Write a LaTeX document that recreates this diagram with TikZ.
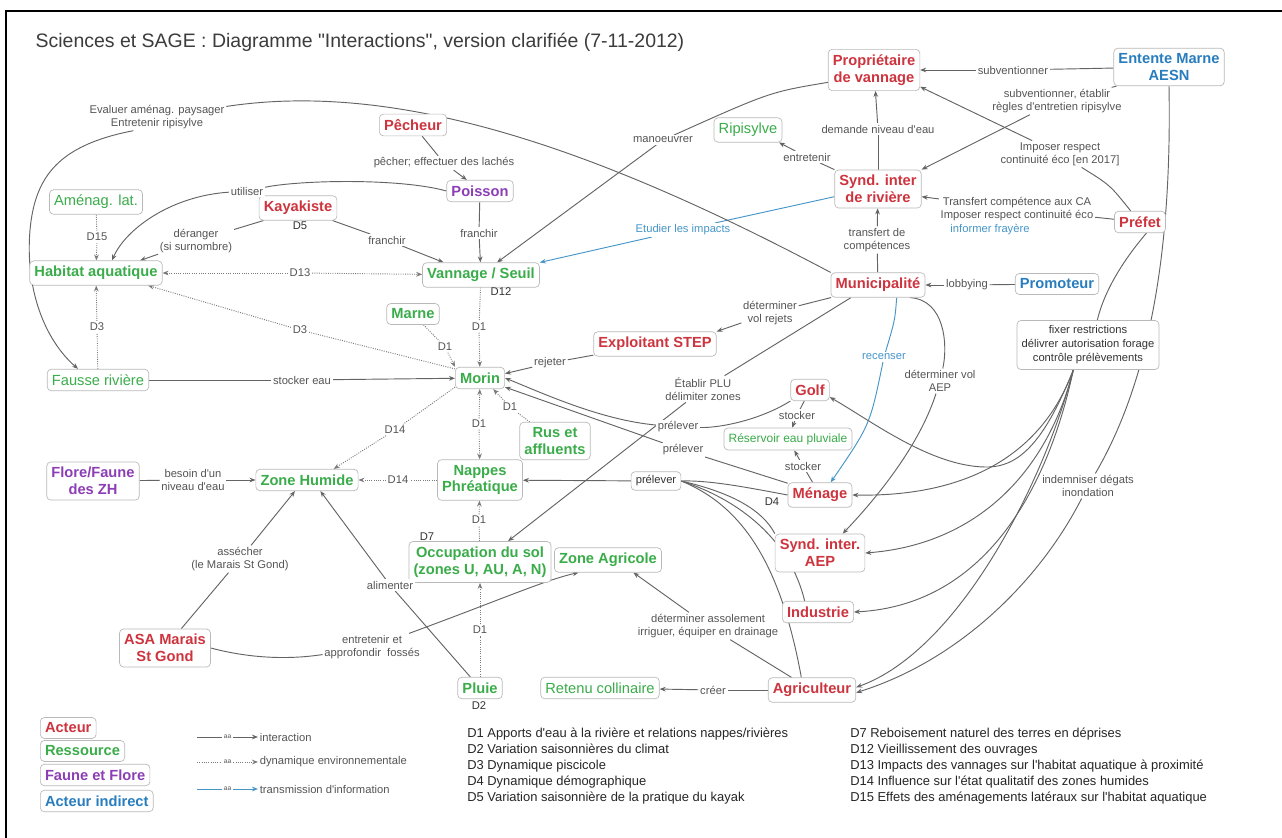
\documentclass[tikz,border=0pt]{standalone}
\usepackage{fontspec}
\setmainfont{Liberation Sans}[Ligatures=TeXOff]
\usetikzlibrary{arrows.meta}
\pgfdeclarelayer{bg}
\pgfdeclarelayer{paper}
\pgfsetlayers{paper,bg,main}
\definecolor{cact}{RGB}{205,52,62}
\definecolor{cres}{RGB}{58,172,74}
\definecolor{cfau}{RGB}{140,62,182}
\definecolor{cind}{RGB}{40,125,190}
\definecolor{cedge}{RGB}{100,100,100}
\definecolor{clbl}{RGB}{85,85,85}
\definecolor{cinfo}{RGB}{70,150,200}
\definecolor{cbox}{RGB}{185,185,185}
\definecolor{ctitle}{RGB}{60,60,60}
\tikzset{
 box/.style={draw=cbox, line width=0.5pt, rounded corners=3pt, fill=white, inner xsep=3.5pt, inner ysep=4pt, align=center},
 act/.style={box, text=cact, font=\bfseries\fontsize{11}{12.5}\selectfont},
 res/.style={box, text=cres, font=\bfseries\fontsize{11}{12.5}\selectfont},
 resn/.style={box, text=cres, font=\fontsize{11}{12.5}\selectfont},
 fau/.style={box, text=cfau, font=\bfseries\fontsize{11}{12.5}\selectfont},
 ind/.style={box, text=cind, font=\bfseries\fontsize{11}{12.5}\selectfont},
 lbl/.style={text=clbl, font=\fontsize{8.4}{9.8}\selectfont, fill=white, inner sep=1.2pt, align=center},
 dtx/.style={text=black!80, font=\fontsize{8.4}{9.8}\selectfont, inner sep=1pt},
 link/.style={draw=cedge, line width=0.7pt},
 dyn/.style={draw=cedge!85, line width=0.7pt, densely dotted},
 info/.style={draw=cinfo, line width=0.7pt},
 arr/.style={-{Stealth[length=4.5pt,width=3.5pt]}},
}
\begin{document}
\begin{tikzpicture}[x=0.75pt,y=-0.75pt]
\useasboundingbox (0,0) rectangle (1282,838);
\begin{pgfonlayer}{paper}
\fill[white] (0,0) rectangle (1282,838);
\end{pgfonlayer}
\draw[line width=2.2pt] (6,838) -- (6,11) -- (1282,11);

\node[anchor=west, text=ctitle, font=\fontsize{14.6}{16}\selectfont] (title) at (31,42) {Sciences et SAGE : Diagramme "Interactions", version clarifiée (7-11-2012)};

% concepts
\node[act] (prop) at (874,70) {Propriétaire\\de vannage};
\node[ind] (ent) at (1169,67) {Entente Marne\\AESN};
\node[resn] (ripi) at (748,130) {Ripisylve};
\node[act] (pech) at (413,125) {Pêcheur};
\node[fau] (pois) at (480,191) {Poisson};
\node[act] (synd) at (878,189) {Synd. inter\\de rivière};
\node[act] (pref) at (1140,222) {Préfet};
\node[resn] (amen) at (96,202) {Aménag. lat.};
\node[act] (kay) at (298,208) {Kayakiste};
\node[res] (hab) at (96,273) {Habitat aquatique};
\node[res] (van) at (481,275) {Vannage / Seuil};
\node[act] (mun) at (878,285) {Municipalité};
\node[ind] (prom) at (1057,284) {Promoteur};
\node[res] (marne) at (413,314) {Marne};
\node[act] (step) at (655,344) {Exploitant STEP};
\node[box, text=black!80, font=\fontsize{8.4}{10.5}\selectfont] (fix) at (1088,345) {fixer restrictions\\délivrer autorisation forage\\contrôle prélèvements};
\node[res] (morin) at (480,378) {Morin};
\node[resn] (fausse) at (98,380) {Fausse rivière};
\node[act] (golf) at (810,390) {Golf};
\node[resn, font=\fontsize{9}{10}\selectfont] (resv) at (788,439) {Réservoir eau pluviale};
\node[res] (rus) at (555,441) {Rus et\\affluents};
\node[fau] (flore) at (93,481) {Flore/Faune\\des ZH};
\node[res] (zh) at (307,480) {Zone Humide};
\node[res] (nap) at (480,480) {Nappes\\Phréatique};
\node[box, text=black!80, font=\fontsize{8.4}{10}\selectfont, inner ysep=3pt] (prel) at (656,481) {prélever};
\node[act] (men) at (820,495) {Ménage};
\node[act] (aep) at (820,553) {Synd. inter.\\AEP};
\node[res] (occ) at (480,562) {Occupation du sol\\(zones U, AU, A, N)};
\node[res] (zag) at (608,560) {Zone Agricole};
\node[act] (indu) at (818,612) {Industrie};
\node[act] (asa) at (165,648) {ASA Marais\\St Gond};
\node[res] (pluie) at (480,688) {Pluie};
\node[resn] (ret) at (600,688) {Retenu collinaire};
\node[act] (agr) at (812,690) {Agriculteur};

% linking phrases
\node[lbl] (l1) at (1013,70) {subventionner};
\node[lbl] (l2) at (1057,101) {subventionner, établir\\règles d'entretien ripisylve};
\node[lbl] (l3) at (1060,154) {Imposer respect\\continuité éco [en 2017]};
\node[lbl] (l4) at (1017,209) {Transfert compétence aux CA\\Imposer respect continuité éco};
\node[lbl, text=cinfo] (l4b) at (990,230) {informer frayère};
\node[lbl] (l5) at (878,129) {demande niveau d'eau};
\node[lbl] (l6) at (807,157) {entretenir};
\node[lbl] (l7) at (877,240) {transfert de\\compétences};
\node[lbl] (l8) at (967,285) {lobbying};
\node[lbl, text=cinfo] (l9) at (683,230) {Etudier les impacts};
\node[lbl] (l10) at (663,140) {manoeuvrer};
\node[lbl] (l11) at (157,117) {Evaluer aménag. paysager\\Entretenir ripisylve};
\node[lbl] (l12) at (247,191) {utiliser};
\node[lbl] (l13) at (444,163) {pêcher; effectuer des lachés};
\node[lbl] (l14) at (479,233) {franchir};
\node[lbl] (l15) at (387,240) {franchir};
\node[lbl] (l16) at (196,241) {déranger\\(si surnombre)};
\node[dtx] (d5) at (300,226) {D5};
\node[lbl] (l18) at (97,237) {D15};
\node[lbl] (l19) at (300,273) {D13};
\node[lbl] (l20) at (97,327) {D3};
\node[lbl] (l21) at (300,330) {D3};
\node[lbl] (l22) at (302,380) {stocker eau};
\node[lbl] (l23) at (479,327) {D1};
\node[dtx] (d12) at (501,292) {D12};
\node[lbl] (l24) at (445,347) {D1};
\node[lbl] (l25) at (550,363) {rejeter};
\node[lbl] (l26) at (770,313) {déterminer\\vol rejets};
\node[lbl] (l27) at (703,389) {Établir PLU\\délimiter zones};
\node[lbl, text=cinfo] (l28) at (884,357) {recenser};
\node[lbl] (l29) at (940,381) {déterminer vol\\AEP};
\node[lbl] (l30) at (678,427) {prélever};
\node[lbl] (l31) at (683,450) {prélever};
\node[lbl] (l32) at (797,415) {stocker};
\node[lbl] (l33) at (803,466) {stocker};
\node[dtx] (d4) at (772,502) {D4};
\node[lbl] (l43) at (479,424) {D1};
\node[lbl] (l44) at (510,407) {D1};
\node[lbl] (l45) at (395,430) {D14};
\node[lbl] (l46) at (398,480) {D14};
\node[lbl] (l47) at (193,480) {besoin d'un\\niveau d'eau};
\node[lbl] (l48) at (240,559) {assécher\\(le Marais St Gond)};
\node[lbl] (l49) at (390,585) {alimenter};
\node[lbl] (l40) at (479,520) {D1};
\node[dtx] (d7) at (427,537) {D7};
\node[lbl] (l41) at (480,630) {D1};
\node[dtx] (d2) at (479,706) {D2};
\node[lbl] (l50) at (372,647) {entretenir et\\approfondir\ \ fossés};
\node[lbl] (l51) at (708,626) {déterminer assolement\\irriguer, équiper en drainage};
\node[lbl] (l52) at (713,690) {créer};
\node[lbl] (l55) at (1088,486) {indemniser dégats\\inondation};

\begin{pgfonlayer}{bg}
\draw[link] (ent) -- (l1);
\draw[link,arr] (l1) -- (prop);
\draw[link] (ent.200) -- (l2);
\draw[link,arr] (l2) -- (synd.north east);
\draw[link] (pref.130) .. controls (1110,185) .. (l3);
\draw[link,arr] (l3) -- (prop.-20);
\draw[link] (pref) -- (l4);
\draw[link,arr] (l4) -- (synd.-10);
\draw[link] (synd) -- (l5);
\draw[link,arr] (l5) -- (prop);
\draw[link] (synd.north west) -- (l6);
\draw[link,arr] (l6) -- (ripi.-22);
\draw[link] (mun) -- (l7);
\draw[link,arr] (l7) -- (synd);
\draw[link] (prom) -- (l8);
\draw[link,arr] (l8) -- (mun);
\draw[info] (synd.190) -- (l9);
\draw[info,arr] (l9) -- (van.north east);
\draw[link] (prop.195) .. controls (770,92) .. (l10);
\draw[link,arr] (l10) -- ([xshift=12pt]van.north);
\draw[link] (mun.north west) .. controls (600,150) and (400,80) .. (l11);
\draw[link,arr] (l11.210) .. controls (60,145) and (35,175) .. (30,230) .. controls (25,290) and (45,340) .. ([xshift=-15pt]fausse.north);
\draw[link] (pois.west) .. controls (400,178) and (300,180) .. (l12);
\draw[link,arr] (l12) .. controls (170,196) and (125,230) .. ([xshift=12pt]hab.north);
\draw[link] (pech) -- (l13);
\draw[link,arr] (l13) -- (pois.140);
\draw[link] (pois) -- (l14);
\draw[link,arr] (l14) -- (van);
\draw[link] (kay.-20) -- (l15);
\draw[link,arr] (l15) -- ([xshift=-28pt]van.north);
\draw[link] (kay.200) -- (l16);
\draw[link,arr] (l16) -- ([xshift=33pt]hab.north);
\draw[dyn] (amen) -- (l18);
\draw[dyn,arr] (l18) -- (hab);
\draw[dyn,arr] (l19) -- (hab);
\draw[dyn,arr] (l19) -- (van);
\draw[dyn] (fausse) -- (l20);
\draw[dyn,arr] (l20) -- (hab);
\draw[dyn] (morin.160) -- (l21);
\draw[dyn,arr] (l21) -- ([xshift=39pt]hab.south);
\draw[link] (fausse) -- (l22);
\draw[link,arr] (l22) -- (morin);
\draw[dyn] (van) -- (l23);
\draw[dyn,arr] (l23) -- (morin);
\draw[dyn] (marne) -- (l24);
\draw[dyn,arr] (l24) -- (morin.north west);
\draw[link] (step) -- (l25);
\draw[link,arr] (l25) -- (morin.10);
\draw[link] (mun.195) -- (l26);
\draw[link,arr] (l26) -- (step.north east);
\draw[link] (mun.205) -- (l27);
\draw[link,arr] (l27) -- ([xshift=21pt]occ.north);
\draw[info] ([xshift=14pt]mun.south) .. controls (895,320) .. (l28);
\draw[info,arr] (l28) .. controls (870,425) .. ([xshift=8pt]men.north);
\draw[link] ([xshift=24pt]mun.south) .. controls (945,300) and (948,345) .. (l29);
\draw[link,arr] (l29) .. controls (918,450) and (870,505) .. ([xshift=17pt]aep.north);
\draw[link] (golf.south west) .. controls (760,420) and (720,428) .. (l30);
\draw[link,arr] (l30) .. controls (600,420) and (540,392) .. (morin.east);
\draw[link] (men.160) -- (l31);
\draw[link,arr] (l31) -- (morin.-20);
\draw[link] (golf) -- (l32);
\draw[link,arr] (l32) -- (resv);
\draw[link] (men) -- (l33);
\draw[link,arr] (l33) -- (resv);
\draw[link,arr] (prel) -- (nap);
\draw[link] (men.west) .. controls (750,488) and (710,480) .. (prel.east);
\draw[link] (aep.north west) .. controls (760,505) and (720,490) .. (prel.east);
\draw[link] ([xshift=-10pt]indu.north) .. controls (790,540) and (740,500) .. (prel.east);
\draw[link] ([xshift=-8pt]agr.north) .. controls (780,560) and (740,505) .. (prel.east);
\draw[dyn,arr] (l43) -- (morin);
\draw[dyn,arr] (l43) -- (nap);
\draw[dyn] (rus) -- (l44);
\draw[dyn,arr] (l44) -- (morin.-40);
\draw[dyn] (morin.200) -- (l45);
\draw[dyn,arr] (l45) -- ([xshift=20pt]zh.north);
\draw[dyn] (nap) -- (l46);
\draw[dyn,arr] (l46) -- (zh);
\draw[link] (flore) -- (l47);
\draw[link,arr] (l47) -- (zh);
\draw[link] (asa) -- (l48);
\draw[link,arr] (l48) -- ([xshift=-9pt]zh.south);
\draw[link] (pluie) -- (l49);
\draw[link,arr] (l49) -- ([xshift=10pt]zh.south);
\draw[dyn] (occ) -- (l40);
\draw[dyn,arr] (l40) -- (nap);
\draw[dyn] (pluie) -- (l41);
\draw[dyn,arr] (l41) -- (occ);
\draw[link] (asa.east) .. controls (260,661) and (300,658) .. (l50);
\draw[link,arr] (l50) .. controls (500,600) and (545,580) .. ([xshift=-22pt]zag.south);
\draw[link] (agr) -- (l51);
\draw[link,arr] (l51) -- ([xshift=19pt]zag.south);
\draw[link] (agr) -- (l52);
\draw[link,arr] (l52) -- (ret);
\draw[link] (pref.-60) .. controls (1115,270) and (1102,300) .. ([xshift=7pt]fix.north);
\draw[link,arr] ([xshift=-11pt]fix.south) .. controls (1045,440) and (1020,468) .. (985,467) .. controls (930,466) and (870,420) .. (golf.-20);
\draw[link,arr] ([xshift=-11pt]fix.south) .. controls (1040,460) and (960,497) .. (men.east);
\draw[link,arr] ([xshift=-11pt]fix.south) .. controls (1045,480) and (970,545) .. (aep.east);
\draw[link,arr] ([xshift=-11pt]fix.south) .. controls (1050,480) and (990,605) .. (indu.east);
\draw[link,arr] ([xshift=-11pt]fix.south) .. controls (1045,480) and (960,650) .. ([yshift=2pt]agr.east);
\draw[link] (ent.south) .. controls (1172,250) and (1150,380) .. (l55);
\draw[link,arr] (l55) .. controls (1040,580) and (960,660) .. ([yshift=-2pt]agr.east);
\end{pgfonlayer}

% legend
\node[act, anchor=west] (lg1) at (40,728) {Acteur};
\node[res, anchor=west] (lg2) at (40,751) {Ressource};
\node[fau, anchor=west] (lg3) at (40,775) {Faune et Flore};
\node[ind, anchor=west] (lg4) at (40,801) {Acteur indirect};
\coordinate (lga) at (197,737);
\coordinate (lgb) at (197,762);
\coordinate (lgc) at (197,789);
\node[lbl, anchor=west, fill=none] (lgt1) at (258,737) {interaction};
\node[lbl, anchor=west, fill=none] (lgt2) at (258,762) {dynamique environnementale};
\node[lbl, anchor=west, fill=none] (lgt3) at (258,789) {transmission d'information};
\draw[link,arr] (lga) -- node[lbl, font=\fontsize{5}{6}\selectfont]{aa} (lgt1.west);
\draw[dyn,arr] (lgb) -- node[lbl, font=\fontsize{5}{6}\selectfont]{aa} (lgt2.west);
\draw[info,arr] (lgc) -- node[lbl, font=\fontsize{5}{6}\selectfont]{aa} (lgt3.west);

\node[anchor=north west, align=left, inner sep=0pt, text=black!85, font=\fontsize{9.7}{11.9}\selectfont] (dlistA) at (467,728) {D1 Apports d'eau à la rivière et relations nappes/rivières\\D2 Variation saisonnières du climat\\D3 Dynamique piscicole\\D4 Dynamique démographique\\D5 Variation saisonnière de la pratique du kayak};
\node[anchor=north west, align=left, inner sep=0pt, text=black!85, font=\fontsize{9.7}{11.9}\selectfont] (dlistB) at (850,728) {D7 Reboisement naturel des terres en déprises\\D12 Vieillissement des ouvrages\\D13 Impacts des vannages sur l'habitat aquatique à proximité\\D14 Influence sur l'état qualitatif des zones humides\\D15 Effets des aménagements latéraux sur l'habitat aquatique};
\end{tikzpicture}
\end{document}
